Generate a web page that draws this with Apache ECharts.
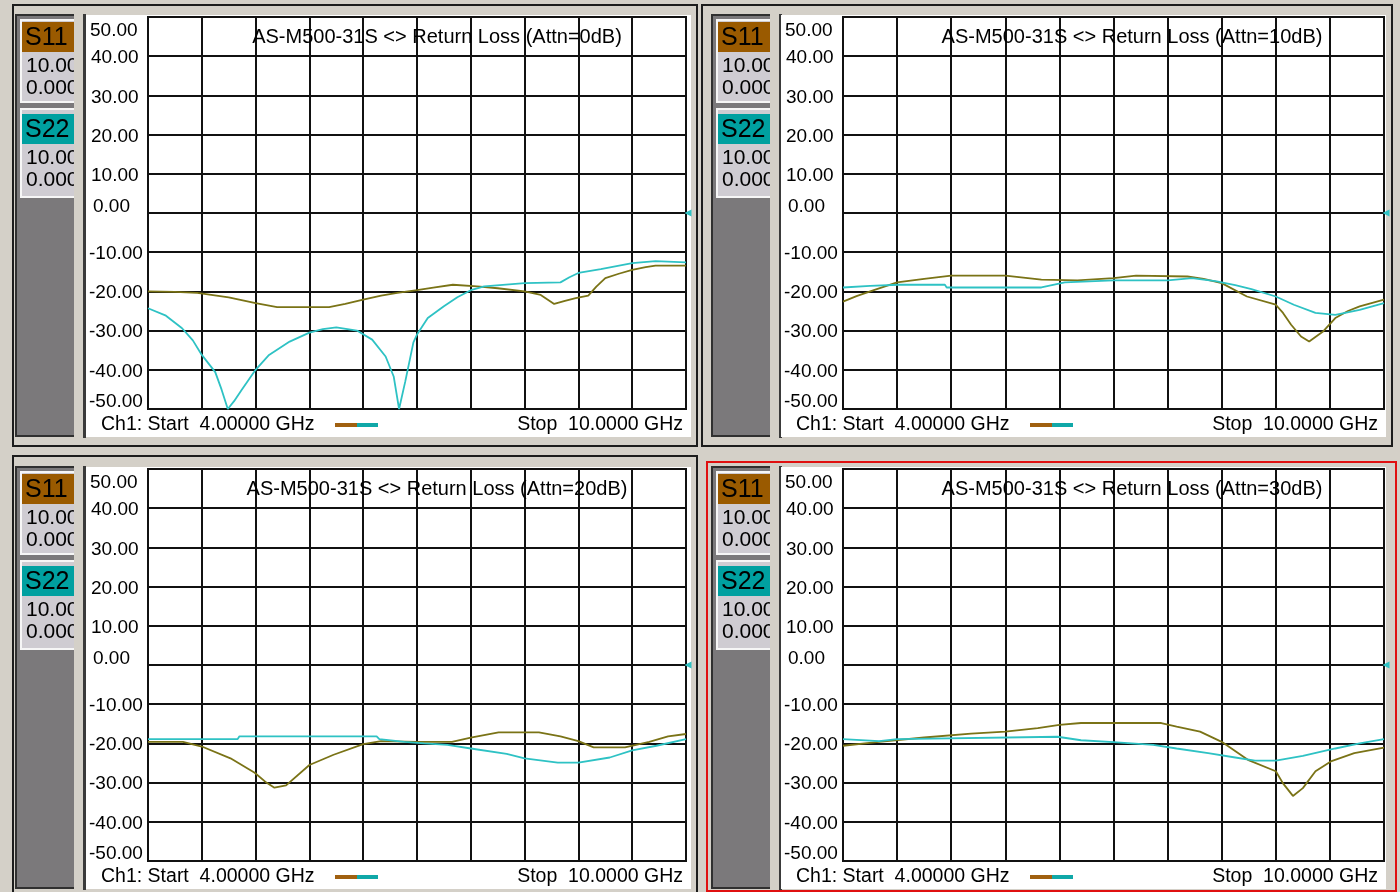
<!DOCTYPE html>
<html>
<head>
<meta charset="utf-8">
<script src="https://cdn.jsdelivr.net/npm/echarts@6/dist/echarts.min.js"></script>
<style>
html,body{margin:0;padding:0;background:#d4d0c8;}
#chart{width:1400px;height:892px;}
</style>
</head>
<body>
<div id="chart"></div>
<script>
// ---------------- DATA ----------------
const titles = [
  'AS-M500-31S <> Return Loss (Attn=0dB)',
  'AS-M500-31S <> Return Loss (Attn=10dB)',
  'AS-M500-31S <> Return Loss (Attn=20dB)',
  'AS-M500-31S <> Return Loss (Attn=30dB)'
];
const traceNames = ['S11', 'S22'];
const scaleTexts = ['10.00', '0.000'];
const startLabel = 'Ch1: Start  4.00000 GHz';
const stopLabel = 'Stop  10.0000 GHz';
const freqMin = 4, freqMax = 10, freqStep = 0.6;
const dbMin = -50, dbMax = 50, dbStep = 10;

// Attn = 0 dB  [GHz, dB]
const s11_att0 = [[4.0,-20],[4.3,-20.1],[4.55,-20.4],[4.9,-21.5],[5.2,-23],[5.44,-24],[6.02,-24],[6.2,-23.2],[6.4,-22.1],[6.6,-21.1],[6.78,-20.4],[7.0,-19.7],[7.2,-19],[7.4,-18.3],[7.67,-18.7],[7.9,-19.2],[8.2,-20],[8.38,-20.9],[8.53,-23.2],[8.65,-22.4],[8.77,-21.7],[8.91,-21.1],[9.0,-18.8],[9.1,-16.6],[9.25,-15.5],[9.4,-14.5],[9.55,-13.8],[9.66,-13.4],[10.0,-13.4]];
const s22_att0 = [[4.0,-24.3],[4.2,-26.2],[4.38,-29.4],[4.5,-32.5],[4.6,-36.2],[4.75,-40.6],[4.82,-45],[4.89,-50],[4.96,-48],[5.04,-45.3],[5.2,-40],[5.35,-36.2],[5.58,-32.8],[5.8,-30.5],[5.95,-29.6],[6.1,-29.2],[6.33,-30],[6.5,-32.3],[6.65,-36.6],[6.74,-41.7],[6.8,-50],[6.87,-42.9],[6.96,-33],[7.0,-31],[7.12,-26.8],[7.3,-23.8],[7.45,-21.5],[7.6,-19.7],[7.75,-18.7],[8.2,-17.9],[8.6,-17.7],[8.7,-16.4],[8.8,-15.3],[9.05,-14.3],[9.4,-12.8],[9.66,-12.3],[10.0,-12.6]];

// Attn = 10 dB
const s11_att10 = [[4.0,-22.6],[4.15,-21.2],[4.35,-19.6],[4.6,-17.7],[4.9,-16.8],[5.2,-16],[5.8,-16],[6.0,-16.5],[6.2,-17],[6.6,-17.2],[7.0,-16.6],[7.25,-16],[7.82,-16.2],[8.0,-16.8],[8.2,-17.9],[8.48,-21.3],[8.8,-23.4],[8.88,-25.5],[8.97,-28.5],[9.08,-31.5],[9.17,-32.8],[9.32,-30.3],[9.46,-26.8],[9.6,-25],[9.73,-23.8],[10.0,-22.1]];
const s22_att10 = [[4.0,-19],[4.3,-18.6],[4.62,-18.3],[5.13,-18.3],[5.15,-19],[6.2,-19],[6.46,-17.7],[7.0,-17.2],[7.6,-17.2],[7.87,-16.6],[8.13,-17.4],[8.35,-18.4],[8.53,-19.4],[8.8,-21.3],[9.0,-23.4],[9.24,-25.5],[9.46,-26],[9.73,-24.7],[10.0,-23]];

// Attn = 20 dB
const s11_att20 = [[4.0,-19.6],[4.39,-19.6],[4.6,-20.8],[4.92,-23.8],[5.19,-27.5],[5.32,-30],[5.41,-31.3],[5.54,-30.7],[5.8,-25.5],[6.07,-22.9],[6.4,-20.2],[6.6,-19.4],[7.0,-19.6],[7.39,-19.6],[7.6,-18.5],[7.91,-17.2],[8.36,-17.2],[8.6,-18.2],[8.8,-19.4],[8.97,-21],[9.32,-21],[9.59,-19.6],[9.8,-18.2],[10.0,-17.6]];
const s22_att20 = [[4.0,-18.9],[5.0,-18.9],[5.02,-18.2],[6.55,-18.2],[6.58,-18.9],[6.86,-19.6],[7.08,-20],[7.34,-20.4],[7.6,-21.3],[8.0,-22.7],[8.2,-23.8],[8.57,-24.9],[8.8,-24.9],[9.15,-23.6],[9.4,-21.8],[9.67,-20.6],[10.0,-18.9]];

// Attn = 30 dB
const s11_att30 = [[4.0,-20.6],[4.4,-19.6],[4.9,-18.5],[5.42,-17.5],[5.8,-17],[6.16,-16.1],[6.4,-15.3],[6.64,-14.8],[7.53,-14.8],[7.7,-15.7],[7.96,-17],[8.2,-19.6],[8.49,-24.2],[8.8,-27.1],[8.88,-30.2],[8.99,-33.4],[9.1,-31.4],[9.24,-27.1],[9.41,-24.6],[9.67,-22.5],[10.0,-21.1]];
const s22_att30 = [[4.0,-18.9],[4.4,-19.4],[4.6,-18.9],[6.38,-18.3],[6.64,-19.2],[7.0,-19.7],[7.44,-20.4],[7.7,-21.3],[8.05,-22.5],[8.35,-23.6],[8.57,-24.4],[8.8,-24.4],[9.1,-23.2],[9.46,-21.3],[9.73,-20],[10.0,-18.9]];

const s11Traces = [s11_att0, s11_att10, s11_att20, s11_att30];
const s22Traces = [s22_att0, s22_att10, s22_att20, s22_att30];

// ---------------- LAYOUT / STYLE ----------------
const BG = '#d4d0c8';
const S11_LINE = '#7a7316';
const S22_LINE = '#2ec2c4';
const S11_BOX = '#9a5a00';
const S22_BOX = '#00a0a0';
const FONT = '"Liberation Sans", Arial, sans-serif';

const panels = [
  {px: 0, sx: 0, dy: 0, frame: [13, 5, 684, 441]},
  {px: 695, sx: 696, dy: 0, frame: [702, 5, 690, 441]},
  {px: 0, sx: 0, dy: 452, frame: [13, 456, 684, 440]},
  {px: 695, sx: 696, dy: 452, frame: [707, 462, 689, 429]}
];

const chart = echarts.init(document.getElementById('chart'));
const grids = [], xAxes = [], yAxes = [], series = [], graphics = [];

function rect(x, y, w, h, style, z) {
  graphics.push({type: 'rect', z: z, silent: true, shape: {x, y, width: w, height: h}, style});
}
function text(t, x, y, size, opts, z) {
  graphics.push({type: 'text', z: z, silent: true, style: Object.assign({
    text: t, x, y, font: size + 'px ' + FONT, fill: '#000',
    textAlign: 'left', textVerticalAlign: 'middle', align: 'left', verticalAlign: 'middle'
  }, opts || {})});
}

panels.forEach((p, i) => {
  const dy = p.dy, px = p.px, sx = p.sx;
  const gl = 148 + px, gt = 17 + dy, gw = 538 + (px ? 3 : 0), gh = 392;

  rect(p.frame[0], p.frame[1], p.frame[2], p.frame[3], {fill: BG, stroke: '#1c1c1c', lineWidth: 2}, -20);
  if (i === 3) rect(p.frame[0], p.frame[1], p.frame[2], p.frame[3], {fill: 'none', stroke: '#e01010', lineWidth: 2}, 30);
  rect(16 + sx, 15 + dy, 60, 421, {fill: '#7b797b', stroke: '#303030', lineWidth: 2}, -19);
  rect(21 + sx, 20 + dy, 56, 82, {fill: '#cfccd2', stroke: '#f6f6f6', lineWidth: 2}, -18);
  rect(22 + sx, 22 + dy, 55, 30, {fill: S11_BOX}, -17);
  text(traceNames[0], 25 + sx, 38 + dy, 25, {}, -16);
  text(scaleTexts[0], 26 + sx, 66 + dy, 21, {}, -16);
  text(scaleTexts[1], 26 + sx, 88 + dy, 21, {}, -16);
  rect(21 + sx, 109 + dy, 56, 88, {fill: '#cfccd2', stroke: '#f6f6f6', lineWidth: 2}, -18);
  rect(22 + sx, 114 + dy, 55, 30, {fill: S22_BOX}, -17);
  text(traceNames[1], 25 + sx, 130 + dy, 25, {}, -16);
  text(scaleTexts[0], 26 + sx, 158 + dy, 21, {}, -16);
  text(scaleTexts[1], 26 + sx, 180 + dy, 21, {}, -16);
  rect(74 + sx, 12 + dy, 10, 428, {fill: BG}, -15);
  rect(83 + sx, 14 + dy, 3, 424, {fill: '#3a3a3a'}, -15);
  rect(86 + px, 15 + dy, 605, 422, {fill: '#ffffff'}, -14);

  text(titles[i], 437 + px, 37 + dy, 20, {textAlign: 'center', align: 'center'}, 10);
  text(startLabel, 101 + px, 425 + dy, 19.5, {}, 10);
  text(stopLabel, 683 + px, 425 + dy, 19.5, {textAlign: 'right', align: 'right'}, 10);
  rect(335 + px, 423 + dy, 22, 4, {fill: '#a06010'}, 10);
  rect(357 + px, 423 + dy, 21, 4, {fill: '#10a8a8'}, 10);

  grids.push({left: gl, top: gt, width: gw, height: gh, show: true,
    borderColor: '#111', borderWidth: 2, backgroundColor: 'transparent', containLabel: false});
  xAxes.push({type: 'value', gridIndex: i, min: freqMin, max: freqMax, interval: freqStep,
    axisLabel: {show: false}, axisTick: {show: false}, axisLine: {show: false},
    splitLine: {show: true, lineStyle: {color: '#111', width: 2}}});
  const lblFont = {fontFamily: FONT, fontSize: 19, color: '#000'};
  yAxes.push({type: 'value', gridIndex: i, min: dbMin, max: dbMax, interval: dbStep,
    axisTick: {show: false}, axisLine: {show: false},
    splitLine: {show: true, lineStyle: {color: '#111', width: 2}},
    axisLabel: {show: true, align: 'left', margin: 59, ...lblFont,
      formatter: v => {
        const s = v.toFixed(2);
        if (v === dbMax) return '{t|' + s + '}';
        if (v === dbMin) return '{b|' + s + '}';
        if (v === 0) return '{z|' + s + '}';
        if (v > 0) return '{p|' + s + '}';
        return '{n|' + s + '}';
      },
      rich: {
        t: Object.assign({padding: [28, 0, 0, 1]}, lblFont),
        b: Object.assign({padding: [0, 0, 14, 0]}, lblFont),
        z: Object.assign({padding: [0, 0, 12, 4]}, lblFont),
        p: Object.assign({padding: [4, 0, 0, 2]}, lblFont),
        n: Object.assign({padding: [3, 0, 0, 0]}, lblFont)
      }}});

  series.push({type: 'line', name: 'S11', xAxisIndex: i, yAxisIndex: i, data: s11Traces[i],
    showSymbol: false, symbol: 'none', smooth: false, z: 5,
    lineStyle: {color: S11_LINE, width: 1.8}, itemStyle: {color: S11_LINE}});
  series.push({type: 'line', name: 'S22', xAxisIndex: i, yAxisIndex: i, data: s22Traces[i],
    showSymbol: false, symbol: 'none', smooth: false, z: 6,
    lineStyle: {color: S22_LINE, width: 1.8}, itemStyle: {color: S22_LINE},
    markPoint: {silent: true, symbol: 'triangle', symbolSize: 7, symbolRotate: 90, symbolOffset: [2, 0],
      label: {show: false}, itemStyle: {color: S22_LINE},
      data: [{coord: [freqMax, 0]}]}});
});

chart.setOption({
  animation: false,
  backgroundColor: BG,
  grid: grids, xAxis: xAxes, yAxis: yAxes, series: series,
  graphic: {elements: graphics}
});
</script>
</body>
</html>
